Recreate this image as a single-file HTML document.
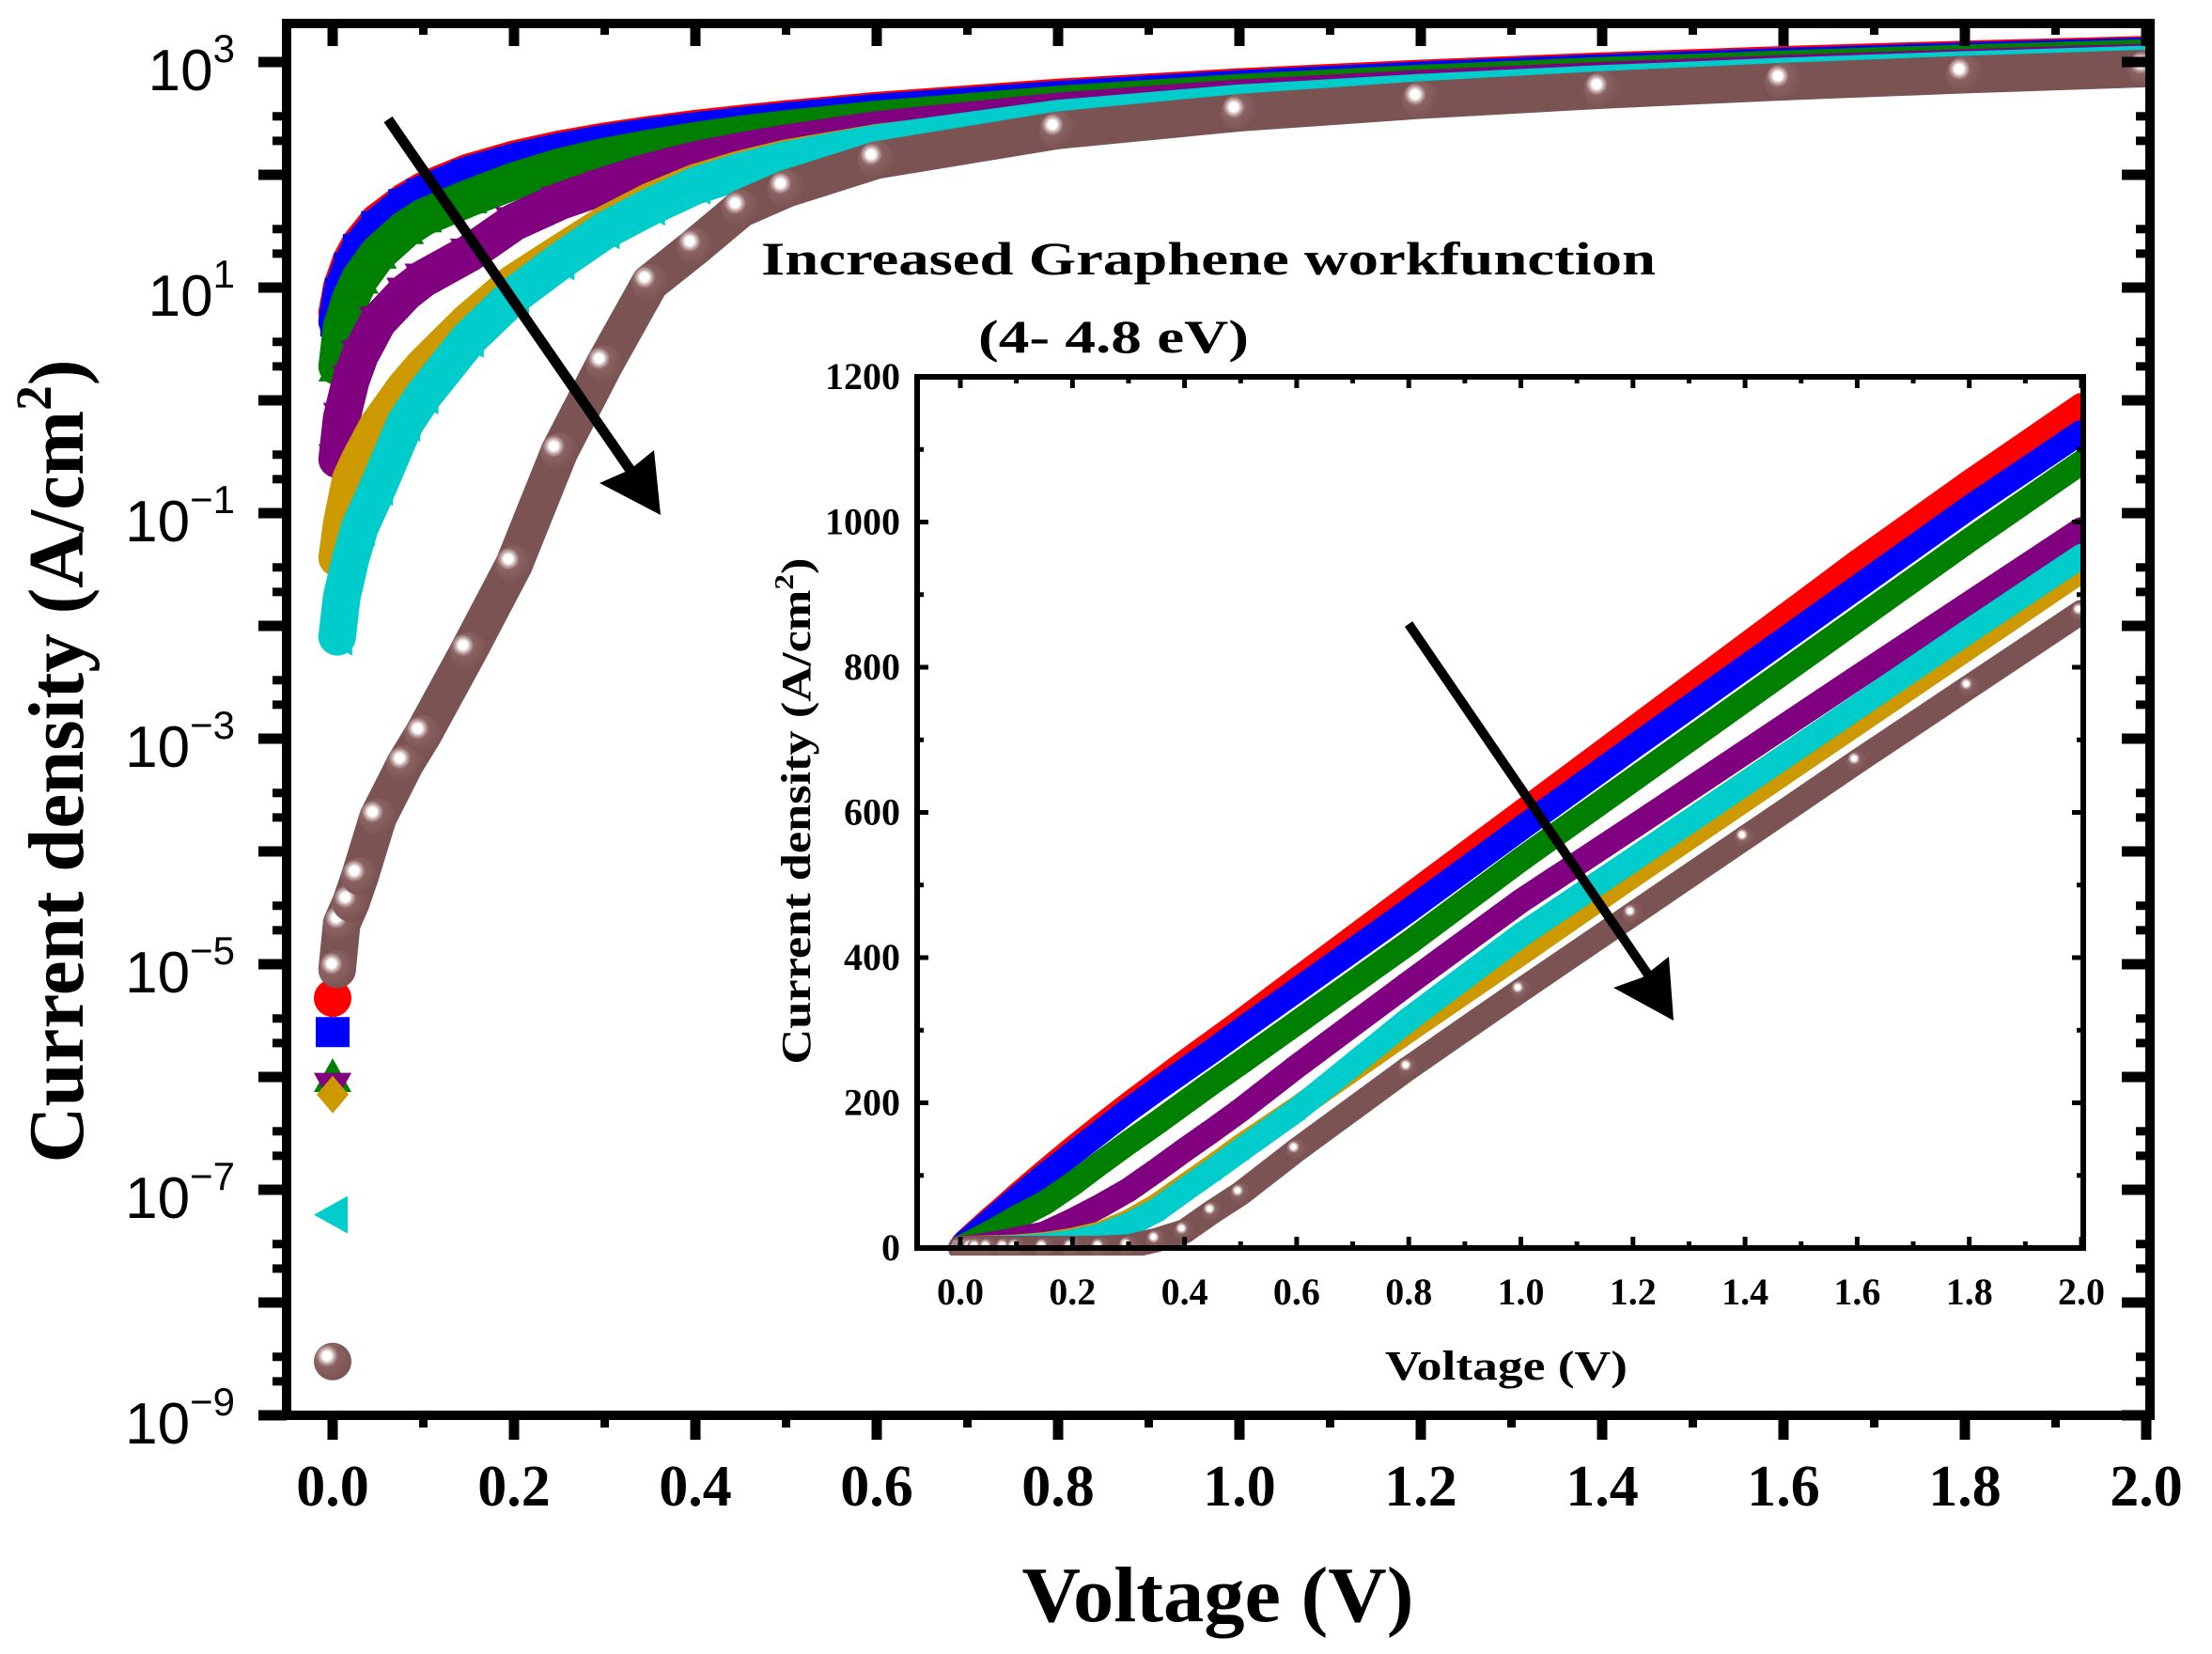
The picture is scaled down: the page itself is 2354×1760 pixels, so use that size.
<!DOCTYPE html>
<html><head><meta charset="utf-8"><style>
html,body{margin:0;padding:0;background:#fff;}
svg{display:block;}
.ser{font-family:"Liberation Serif",serif;font-weight:bold;}
.sans{font-family:"Liberation Sans",sans-serif;}
</style></head>
<body>
<svg id="chart" width="2354" height="1760" viewBox="0 0 2354 1760" xmlns="http://www.w3.org/2000/svg">
<defs>
<radialGradient id="sph" cx="0.35" cy="0.35" r="0.65">
<stop offset="0" stop-color="#ffffff"/><stop offset="0.18" stop-color="#ffffff"/>
<stop offset="0.3" stop-color="#c9b0b0"/><stop offset="0.45" stop-color="#8a6262"/><stop offset="1" stop-color="#7b5353"/>
</radialGradient>
<clipPath id="mainClip"><rect x="305" y="25" width="1983" height="1481"/></clipPath>
<clipPath id="inClip"><rect x="976" y="401" width="1241" height="935"/></clipPath>
</defs>
<rect width="2354" height="1760" fill="#fff"/>
<g id="mainSeries" clip-path="url(#mainClip)"></g>
<g id="mainAxes"></g>
<rect x="976" y="401" width="1241" height="927" fill="#fff"/>
<g id="inSeries" clip-path="url(#inClip)"></g>
<g id="inAxes"></g>

<text class="ser" x="1296" y="1725" font-size="84" text-anchor="middle" textLength="417" lengthAdjust="spacingAndGlyphs">Voltage (V)</text>
<text class="ser" transform="translate(88,810) rotate(-90)" x="0" y="0" font-size="84" text-anchor="middle" textLength="855" lengthAdjust="spacingAndGlyphs">Current density (A/cm<tspan dy="-34" font-size="54">2</tspan><tspan dy="34">)</tspan></text>

<text class="ser" x="1286" y="292" font-size="50" text-anchor="middle" textLength="952" lengthAdjust="spacingAndGlyphs">Increased Graphene workfunction</text>
<text class="ser" x="1185" y="375" font-size="50" text-anchor="middle" textLength="288" lengthAdjust="spacingAndGlyphs">(4- 4.8 eV)</text>

<text class="ser" x="1603" y="1468" font-size="44" text-anchor="middle" textLength="258" lengthAdjust="spacingAndGlyphs">Voltage (V)</text>
<text class="ser" transform="translate(862,863) rotate(-90)" x="0" y="0" font-size="44" text-anchor="middle" textLength="539" lengthAdjust="spacingAndGlyphs">Current density (A/cm<tspan dy="-18" font-size="28">2</tspan><tspan dy="18">)</tspan></text>

<g>
<line x1="413" y1="127" x2="690" y2="528" stroke="#000" stroke-width="11"/>
<polygon points="703,548 638,514 670,500 696,479" fill="#000"/>
</g>
<g>
<line x1="1499" y1="664" x2="1775" y2="1068" stroke="#000" stroke-width="10"/>
<polygon points="1781,1086 1717,1051 1748,1040 1776,1018" fill="#000"/>
</g>
</svg>
<script>
const volts=[0,0.005,0.01,0.02,0.03,0.05,0.08,0.1,0.15,0.2,0.25,0.3,0.35,0.4,0.45,0.5,0.6,0.8,1.0,1.2,1.4,1.6,1.8,2.0];
const jRed=[5e-6,6,10,17,24,38,58,72,105,137,168,198,227,256,284,312,370,485,600,715,830,945,1055,1161];
const jBlue=[2.5e-6,5,9,15,22,35,55,68,100,130,160,190,218,245,272,300,355,465,578,690,800,910,1020,1124];
const jGreen=[1e-6,2,4.5,8,12,20,33,42,62,88,117,145,172,200,228,255,310,420,535,645,755,865,975,1082];
const jPurple=[8e-7,0.3,0.7,1.5,2.5,5,9,12,20,38,58,80,107,135,162,190,250,365,478,580,683,786,888,990];
const jGold=[7e-7,0.04,0.08,0.2,0.3,0.6,1.3,2,5,11,20,36,58,85,112,140,192,300,406,513,618,723,828,933];
const jCyan=[6e-8,0.008,0.018,0.04,0.075,0.17,0.63,1.1,3.5,8.5,17,32,52,80,107,135,190,315,431,535,640,745,850,953];
const jBrown=[3e-9,9e-6,2.3e-5,3.5e-5,6e-5,2e-4,6e-4,1.1e-3,6e-3,0.035,0.35,2.1,11,23,50,75,135,248,355,460,565,670,773,876];
const seriesNames=['wf-4.0-red','wf-4.13-blue','wf-4.27-green','wf-4.4-purple','wf-4.53-gold','wf-4.67-cyan','wf-4.8-brown'];
const seriesColors=['#ff0000','#0000ff','#008000','#800080','#cc9900','#00cccc','#7b5353'];
const seriesShapes=['circle','square','up','down','diamond','left','sphere'];
const seriesData=[jRed,jBlue,jGreen,jPurple,jGold,jCyan,jBrown];
const xTickLabels=['0.0','0.2','0.4','0.6','0.8','1.0','1.2','1.4','1.6','1.8','2.0'];
const yDecades=[-9,-8,-7,-6,-5,-4,-3,-2,-1,0,1,2,3];
const yLabelDecades=['−9','−7','−5','−3','−1','1','3'];
const inYTicks=[0,200,400,600,800,1000,1200];

const NS='http://www.w3.org/2000/svg';
function xMain(v){return 354+v*(2284-354)/2;}
function yMain(j){return 66+(3-Math.log10(j))*120;}
function xIn(v){return 1022+v*(2215-1022)/2;}
function yIn(j){return 1328-j*(927/1200);}
function mk(tag,attrs,parent){const e=document.createElementNS(NS,tag);for(const k in attrs)e.setAttribute(k,attrs[k]);parent.appendChild(e);return e;}

function marker(parent,shape,color,cx,cy,s){
  let e;const h=s/2;
  if(shape==='circle'){e=mk('circle',{cx:cx,cy:cy,r:h,fill:color},parent);}
  else if(shape==='sphere'){e=mk('circle',{cx:cx,cy:cy,r:h,fill:'url(#sph)'},parent);}
  else if(shape==='square'){e=mk('rect',{x:cx-h*0.9,y:cy-h*0.8,width:s*0.9,height:s*0.8,fill:color},parent);}
  else{
    let p;
    if(shape==='up')p=[[cx,cy-h],[cx+h,cy+h*0.8],[cx-h,cy+h*0.8]];
    else if(shape==='down')p=[[cx-h,cy-h*0.8],[cx+h,cy-h*0.8],[cx,cy+h]];
    else if(shape==='diamond')p=[[cx,cy-h],[cx+h*0.85,cy],[cx,cy+h],[cx-h*0.85,cy]];
    else p=[[cx-h,cy],[cx+h*0.8,cy-h],[cx+h*0.8,cy+h]];
    e=mk('polygon',{points:p.map(q=>q.join(',')).join(' '),fill:color},parent);
  }
  
  
}

const mainS=document.getElementById('mainSeries');
const inS=document.getElementById('inSeries');
seriesData.forEach((d,i)=>{
  const g=mk('g',{},mainS);
  
  
  const pts=[];for(let k=1;k<volts.length;k++)pts.push(xMain(volts[k])+','+yMain(d[k]));
  const pl=mk('polyline',{points:pts.join(' '),fill:'none',stroke:seriesColors[i],'stroke-width':40,'stroke-linejoin':'round','stroke-linecap':'round'},g);
  
  
  for(let k=0;k<volts.length;k++)marker(g,seriesShapes[i],seriesColors[i],xMain(volts[k]),yMain(d[k]),40);

  const g2=mk('g',{},inS);
  
  
  const pts2=[];for(let k=0;k<volts.length;k++)pts2.push(xIn(volts[k])+','+yIn(d[k]));
  const pl2=mk('polyline',{points:pts2.join(' '),fill:'none',stroke:seriesColors[i],'stroke-width':26,'stroke-linejoin':'round','stroke-linecap':'round'},g2);
  
  
  for(let k=0;k<volts.length;k++)marker(g2,seriesShapes[i],seriesColors[i],xIn(volts[k]),yIn(d[k]),22);
});

const mA=document.getElementById('mainAxes');
const frame=mk('rect',{x:305,y:25,width:1983,height:1481,fill:'none',stroke:'#000','stroke-width':10},mA);


for(let t=0;t<=20;t++){
  const v=t/10,x=xMain(v),maj=t%2===0;
  mk('line',{x1:x,y1:1506,x2:x,y2:1506+(maj?26:13),stroke:'#000','stroke-width':maj?11:9},mA);
  mk('line',{x1:x,y1:25,x2:x,y2:25+(maj?24:12),stroke:'#000','stroke-width':maj?11:9},mA);
}
xTickLabels.forEach((lab,i)=>{
  const t=mk('text',{x:xMain(i*0.2),y:1602,'font-size':62,'text-anchor':'middle',class:'ser'},mA);
  t.textContent=lab;
  
  
});
yDecades.forEach(dd=>{
  const y=yMain(Math.pow(10,dd));
  mk('line',{x1:275,y1:y,x2:305,y2:y,stroke:'#000','stroke-width':11},mA);
  mk('line',{x1:2288,y1:y,x2:2258,y2:y,stroke:'#000','stroke-width':11},mA);
  if(dd<3){[2,3.3].forEach(m=>{const ym=yMain(m*Math.pow(10,dd));
    mk('line',{x1:290,y1:ym,x2:305,y2:ym,stroke:'#000','stroke-width':9},mA);
    mk('line',{x1:2288,y1:ym,x2:2273,y2:ym,stroke:'#000','stroke-width':9},mA);});}
});
yLabelDecades.forEach(s=>{
  const dd=parseInt(s.replace('−','-'));
  const y=yMain(Math.pow(10,dd));
  const t=mk('text',{x:250,y:y+30,'font-size':62,'text-anchor':'end',class:'sans'},mA);
  
  
  t.appendChild(document.createTextNode('10'));
  const sp=mk('tspan',{dy:-30,'font-size':42},t);sp.textContent=s;
});

const iA=document.getElementById('inAxes');
const fr2=mk('rect',{x:976,y:401,width:1241,height:927,fill:'none',stroke:'#000','stroke-width':6},iA);


for(let t=0;t<=20;t++){
  const x=xIn(t/10),maj=t%2===0,L=maj?12:7;
  mk('line',{x1:x,y1:1328,x2:x,y2:1328-L,stroke:'#000','stroke-width':5},iA);
  mk('line',{x1:x,y1:401,x2:x,y2:401+L,stroke:'#000','stroke-width':5},iA);
}
for(let j=0;j<=1200;j+=100){
  const y=yIn(j),maj=j%200===0,L=maj?12:7;
  mk('line',{x1:976,y1:y,x2:976+L,y2:y,stroke:'#000','stroke-width':5},iA);
  mk('line',{x1:2217,y1:y,x2:2217-L,y2:y,stroke:'#000','stroke-width':5},iA);
}
xTickLabels.forEach((lab,i)=>{
  const t=mk('text',{x:xIn(i*0.2),y:1388,'font-size':40,'text-anchor':'middle',class:'ser'},iA);
  t.textContent=lab;
  
  
});
inYTicks.forEach(v=>{
  const t=mk('text',{x:958,y:yIn(v)+13,'font-size':40,'text-anchor':'end',class:'ser'},iA);
  t.textContent=String(v);
  
  
});
</script>
</body></html>
